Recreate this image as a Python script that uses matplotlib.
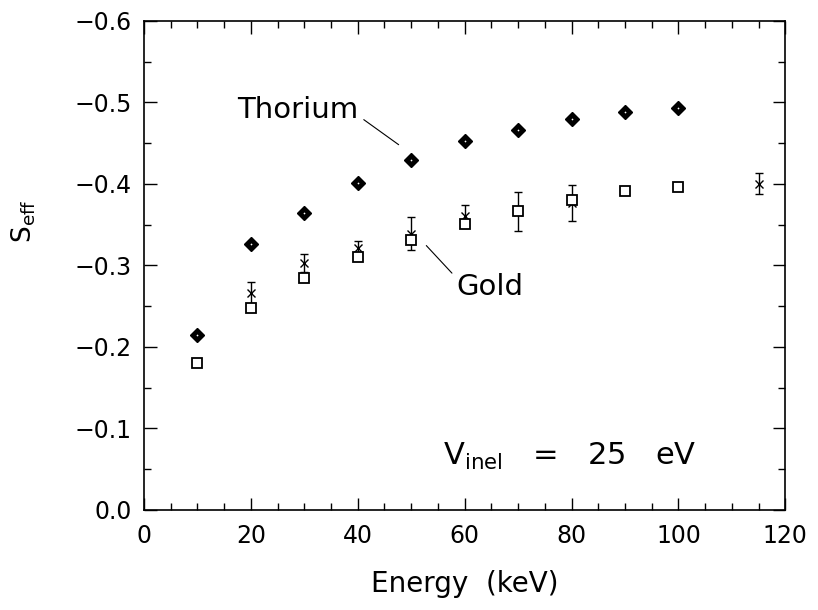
import matplotlib.pyplot as plt
from matplotlib.ticker import MultipleLocator

# Thorium (diamonds)
th_E = [10, 20, 30, 40, 50, 60, 70, 80, 90, 100]
th_S = [-0.214, -0.326, -0.364, -0.401, -0.429, -0.452, -0.466, -0.480, -0.488, -0.493]

# Gold, squares
au_E = [10, 20, 30, 40, 50, 60, 70, 80, 90, 100]
au_S = [-0.180, -0.248, -0.284, -0.310, -0.331, -0.351, -0.367, -0.380, -0.391, -0.396]

# Gold, crosses with error bars
aux_E = [20, 30, 40, 50, 60, 70, 80, 115]
aux_S = [-0.266, -0.303, -0.321, -0.339, -0.360, -0.366, -0.376, -0.400]
aux_err = [0.013, 0.011, 0.009, 0.020, 0.014, 0.024, 0.022, 0.013]

plt.rcParams['font.family'] = ['DejaVu Sans']
plt.rcParams['mathtext.fontset'] = 'dejavusans'

fig = plt.figure(figsize=(8.18, 6.10), dpi=100)
ax = fig.add_axes([0.176, 0.164, 0.784, 0.802])

ax.errorbar(aux_E, aux_S, yerr=aux_err, fmt='x', color='black', ms=6, mew=1.0,
            elinewidth=1.0, capsize=3, capthick=1.0, zorder=3)
ax.plot(au_E, au_S, 's', ms=7, mfc='white', mec='black', mew=1.3, zorder=4)
ax.plot(th_E, th_S, 'D', ms=7.5, mfc='black', mec='black', zorder=5)
ax.plot(th_E, th_S, '.', ms=2.5, mfc='white', mec='none', zorder=6)

ax.set_xlim(0, 120)
ax.set_ylim(0, -0.6)
ax.xaxis.set_major_locator(MultipleLocator(20))
ax.xaxis.set_minor_locator(MultipleLocator(5))
ax.yaxis.set_major_locator(MultipleLocator(0.1))
ax.yaxis.set_minor_locator(MultipleLocator(0.05))
ax.tick_params(which='both', direction='in', top=True, right=True, width=1.0)
ax.tick_params(which='major', length=9, labelsize=17)
ax.tick_params(axis='x', which='major', pad=10)
ax.tick_params(axis='y', which='major', pad=9)
ax.tick_params(which='minor', length=5)
for s in ax.spines.values():
    s.set_linewidth(1.2)

ax.set_xlabel('Energy  (keV)', fontsize=20, labelpad=16)
ax.set_ylabel(r'S$_{\mathrm{eff}}$', fontsize=19)
ax.yaxis.set_label_coords(-0.165, 0.59)

ax.annotate('Thorium', xy=(48.5, -0.444), xytext=(17.5, -0.49), fontsize=21,
            va='center', ha='left',
            arrowprops=dict(arrowstyle='-', color='black', lw=0.8,
                            shrinkA=2, shrinkB=4, relpos=(1.0, 0.3)))
ax.annotate('Gold', xy=(52.3, -0.328), xytext=(58.5, -0.274), fontsize=21,
            va='center', ha='left',
            arrowprops=dict(arrowstyle='-', color='black', lw=0.8,
                            shrinkA=2, shrinkB=3, relpos=(0.0, 0.8)))
ax.text(56, -0.066, r'V$_{\mathrm{inel}}$   =   25   eV', fontsize=22, va='center', ha='left')

fig.savefig('out.png', dpi=100)
